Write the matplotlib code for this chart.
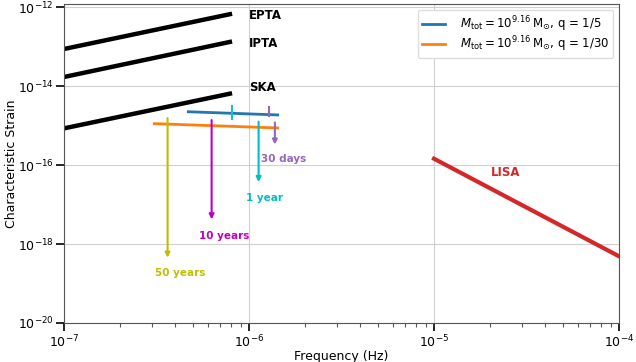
import matplotlib
matplotlib.use("Agg")
import matplotlib.pyplot as plt
import numpy as np

# PTA sensitivity lines (frequency endpoints, strain endpoints)
pta_names = ["EPTA", "IPTA", "SKA"]
pta_f = [1e-7, 8.1e-7]
pta_h = {
    "EPTA": [8.7e-14, 6.8e-13],
    "IPTA": [1.7e-14, 1.35e-13],
    "SKA": [8.5e-16, 6.6e-15],
}
pta_label_y = {"EPTA": 6.2e-13, "IPTA": 1.2e-13, "SKA": 9.1e-15}

# LISA
lisa_f = [1e-5, 1e-4]
lisa_h = [1.45e-16, 4.9e-19]

# binary tracks
q5_f = [4.7e-7, 1.43e-6]
q5_h = [2.24e-15, 1.86e-15]
q30_f = [3.08e-7, 1.43e-6]
q30_h = [1.12e-15, 8.7e-16]

# marks on q=1/5 track
mark_f = [8.1e-7, 1.29e-6]
mark_lo = [1.45e-15, 1.74e-15]
mark_hi = [3.1e-15, 2.95e-15]
mark_colors = ["#17becf", "#9467bd"]

# arrows (time to merger)
arrow_labels = ["50 years", "10 years", "1 year", "30 days"]
arrow_f = [3.63e-7, 6.28e-7, 1.127e-6, 1.38e-6]
arrow_top = [1.55e-15, 1.38e-15, 1.26e-15, 1.2e-15]
arrow_tip = [4.5e-19, 4.2e-18, 3.7e-17, 3.3e-16]
arrow_colors = ["#bfbf00", "#bf00bf", "#00bfc4", "#9467bd"]
label_f = [4.24e-7, 7.33e-7, 1.21e-6, 1.545e-6]
label_y = [1.82e-19, 1.62e-18, 1.48e-17, 1.41e-16]

fig = plt.figure(figsize=(6.36, 3.62), dpi=100)
ax = fig.add_axes([64/636, 1 - 323/362, (619-64)/636, (323-4)/362])
ax.set_xscale("log")
ax.set_yscale("log")

for name in pta_names:
    ax.plot(pta_f, pta_h[name], color="black", lw=3.2, solid_capstyle="butt")
    ax.text(1e-6, pta_label_y[name], name, fontsize=8.5, fontweight="bold",
            ha="left", va="center")

ax.plot(lisa_f, lisa_h, color="#d62728", lw=3)
ax.text(2.45e-5, 6.3e-17, "LISA", fontsize=8.5, fontweight="bold",
        color="#d62728", ha="center", va="center")

ax.plot(q5_f, q5_h, color="#1f77b4", lw=2,
        label=r"$M_{\rm tot} = 10^{9.16}\,\mathrm{M}_{\odot}$, q = 1/5")
ax.plot(q30_f, q30_h, color="#ff7f0e", lw=2,
        label=r"$M_{\rm tot} = 10^{9.16}\,\mathrm{M}_{\odot}$, q = 1/30")

for f, lo, hi, c in zip(mark_f, mark_lo, mark_hi, mark_colors):
    ax.plot([f, f], [lo, hi], color=c, lw=1.5)

for f, top, tip, c, lab, lf, ly in zip(arrow_f, arrow_top, arrow_tip,
                                        arrow_colors, arrow_labels, label_f, label_y):
    ax.annotate("", xy=(f, tip), xytext=(f, top),
                arrowprops=dict(arrowstyle="-|>", color=c, lw=1.5,
                                mutation_scale=7, shrinkA=0, shrinkB=0))
    ax.text(lf, ly, lab, color=c, fontsize=7.5, fontweight="bold",
            ha="center", va="center")

ax.set_xlim(1e-7, 1e-4)
ax.set_ylim(1e-20, 1.2e-12)
ax.set_yticks([1e-20, 1e-18, 1e-16, 1e-14, 1e-12])
ax.yaxis.set_minor_locator(matplotlib.ticker.NullLocator())
ax.grid(True, which="major", color="#d0d0d0", lw=0.8)
ax.set_axisbelow(True)
for s in ax.spines.values():
    s.set_color("#555555")
ax.tick_params(which="major", length=6, width=1.2, labelsize=9, color="black", pad=1.5)
ax.tick_params(which="minor", length=3, width=0.8, color="#555555")
ax.set_xlabel("Frequency (Hz)", fontsize=9, labelpad=0)
ax.set_ylabel("Characteristic Strain", fontsize=9, labelpad=0)
ax.legend(loc="upper right", fontsize=8.5, framealpha=1, edgecolor="#dddddd",
          labelspacing=0.05, handletextpad=1.2, borderpad=0.35)

fig.savefig("out.png", dpi=100)
